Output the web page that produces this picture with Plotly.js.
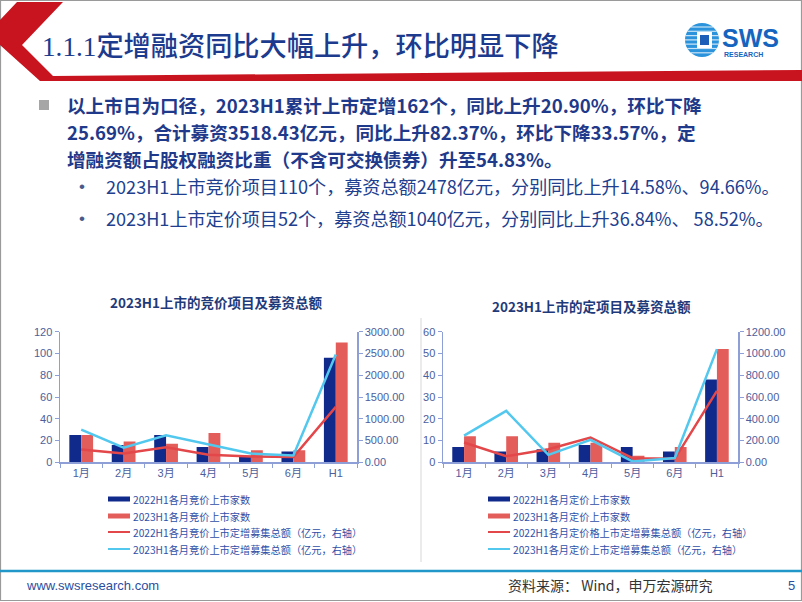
<!DOCTYPE html>
<html>
<head>
<meta charset="utf-8">
<script src="https://cdn.plot.ly/plotly-3.0.1.min.js"></script>
<style>
html,body{margin:0;padding:0;background:#fff;}
#chart{width:802px;height:602px;}
</style>
</head>
<body>
<div id="chart"></div>
<script>
// ---------------- data ----------------
const categories = ['1月','2月','3月','4月','5月','6月','H1'];

const bidCount2022  = [25, 16, 25, 14, 6, 10, 96];
const bidCount2023  = [25, 19, 17, 27, 11, 11, 110];
const bidAmount2022 = [295, 200, 345, 175, 135, 123, 1273];
const bidAmount2023 = [752, 335, 622, 410, 200, 159, 2478];

const fixCount2022  = [7, 5, 6, 8, 7, 5, 38];
const fixCount2023  = [12, 12, 9, 9, 3, 7, 52];
const fixAmount2022 = [182, 56, 120, 228, 38, 32, 656];
const fixAmount2023 = [245, 472, 68, 207, 8, 40, 1040];

const bidNames = ['2022H1各月竞价上市家数','2023H1各月竞价上市家数',
  '2022H1各月竞价上市定增募集总额（亿元，右轴）','2023H1各月竞价上市定增募集总额（亿元，右轴）'];
const fixNames = ['2022H1各月定价上市家数','2023H1各月定价上市家数',
  '2022H1各月定价格上市定增募集总额（亿元，右轴）','2023H1各月定价上市定增募集总额（亿元，右轴）'];

const slideTitle = '1.1.1定增融资同比大幅上升，环比明显下降';
const mainBullet = [
  '以上市日为口径，2023H1累计上市定增162个，同比上升20.90%，环比下降',
  '25.69%，合计募资3518.43亿元，同比上升82.37%，环比下降33.57%，定',
  '增融资额占股权融资比重（不含可交换债券）升至54.83%。'
];
const subBullets = [
  '2023H1上市竞价项目110个，募资总额2478亿元，分别同比上升14.58%、94.66%。',
  '2023H1上市定价项目52个，募资总额1040亿元，分别同比上升36.84%、 58.52%。'
];
const chartTitles = ['2023H1上市的竞价项目及募资总额','2023H1上市的定项目及募资总额'];

// ---------------- styling ----------------
const W = 802, H = 602;
const px = x => x / W;
const py = y => 1 - y / H;

const NAVY = '#102a8c', CORAL = '#e35d5a', RED = '#e3474a', CYAN = '#52c8ef';
const AXIS = '#8e9ed6', TICK = '#4d5e9c';
const CJK = 'Noto Sans CJK SC, sans-serif';
const LAT = 'Liberation Sans, Arial, Noto Sans CJK SC, sans-serif';

function bar(x, y, name, color, xa, ya) {
  return {type:'bar', x:x, y:y, name:name, marker:{color:color}, xaxis:xa, yaxis:ya,
          showlegend:false, hoverinfo:'x+y+name'};
}
function line(x, y, name, color, xa, ya) {
  return {type:'scatter', mode:'lines', x:x, y:y, name:name, line:{color:color, width:2.5},
          xaxis:xa, yaxis:ya, showlegend:false};
}

const traces = [
  bar(categories, bidCount2022, bidNames[0], NAVY, 'x', 'y'),
  bar(categories, bidCount2023, bidNames[1], CORAL, 'x', 'y'),
  line(categories, bidAmount2022, bidNames[2], RED, 'x', 'y2'),
  line(categories, bidAmount2023, bidNames[3], CYAN, 'x', 'y2'),
  bar(categories, fixCount2022, fixNames[0], NAVY, 'x2', 'y3'),
  bar(categories, fixCount2023, fixNames[1], CORAL, 'x2', 'y3'),
  line(categories, fixAmount2022, fixNames[2], RED, 'x2', 'y4'),
  line(categories, fixAmount2023, fixNames[3], CYAN, 'x2', 'y4')
];

const yDom = [py(462.3), py(331.7)];
function xAxis(dom, anchor) {
  return {domain:dom, anchor:anchor, type:'category', showline:true, linecolor:AXIS, linewidth:1.5,
          ticks:'outside', ticklen:4, tickcolor:AXIS, tickson:'boundaries', showgrid:false, zeroline:false,
          tickfont:{family:LAT, size:11, color:TICK}, fixedrange:true};
}
function yAxis(anchor, range, dtick, fmt, side, overlay) {
  const a = {anchor:anchor, range:range, dtick:dtick, showline:true, linecolor:AXIS, linewidth:1.5,
          ticks:'outside', ticklen:4, tickcolor:AXIS, showgrid:false, zeroline:false,
          tickfont:{family:LAT, size:11, color:TICK}, fixedrange:true, side:side};
  if (fmt) a.tickformat = fmt;
  if (overlay) a.overlaying = overlay; else a.domain = yDom;
  return a;
}

const shapes = [];
const annotations = [];

// slide frame
shapes.push({type:'rect', xref:'paper', yref:'paper', x0:px(0.5), x1:px(801.5), y0:py(0.5), y1:py(600.5),
  line:{color:'#9a9a9a', width:1.2}, fillcolor:'rgba(0,0,0,0)', layer:'below'});

// header red chevron + band
const hdr = [[17,2],[63,2],[22,45],[53,76],[802,70],[802,81],[40,81],[0,45],[0,20]];
shapes.push({type:'path', xref:'paper', yref:'paper',
  path:'M' + hdr.map(p => px(p[0]) + ',' + py(p[1])).join(' L') + ' Z',
  fillcolor:'#c8141e', line:{width:0}});

// logo
const cx = 702, cy = 40, r = 17;
shapes.push({type:'circle', xref:'paper', yref:'paper', x0:px(cx-r), x1:px(cx+r), y0:py(cy+r), y1:py(cy-r),
  fillcolor:'#2a93dc', line:{width:0}});
for (let d = -13; d <= 13; d += 4.3) {
  const hc = Math.sqrt(r*r - d*d);
  shapes.push({type:'line', xref:'paper', yref:'paper', x0:px(cx-hc), x1:px(cx+hc), y0:py(cy+d), y1:py(cy+d),
    line:{color:'rgba(255,255,255,0.75)', width:1.2}});
}
shapes.push({type:'rect', xref:'paper', yref:'paper', x0:px(697), x1:px(712), y0:py(48), y1:py(32),
  fillcolor:'#ffffff', line:{width:0}});
shapes.push({type:'rect', xref:'paper', yref:'paper', x0:px(700), x1:px(709), y0:py(45), y1:py(35),
  fillcolor:'#1d5fb8', line:{width:0}});
annotations.push({xref:'paper', yref:'paper', x:px(720), y:py(38), xanchor:'left', yanchor:'middle',
  text:'<b>SWS</b>', showarrow:false, font:{family:LAT, size:25, color:'#1565c0'}});
annotations.push({xref:'paper', yref:'paper', x:px(722), y:py(54), xanchor:'left', yanchor:'middle',
  text:'<b>RESEARCH</b>', showarrow:false, font:{family:LAT, size:7, color:'#1565c0'}});

// title
annotations.push({xref:'paper', yref:'paper', x:px(40), y:py(44), xanchor:'left', yanchor:'middle',
  text:'<span style="font-family:Liberation Serif">1.1.1</span>' + slideTitle.slice(5), showarrow:false,
  font:{family:CJK, size:27.2, color:'#1c3b8e', weight:500}});

// main bullet
shapes.push({type:'rect', xref:'paper', yref:'paper', x0:px(39), x1:px(49), y0:py(110), y1:py(100),
  fillcolor:'#a6a6a6', line:{width:0}});
const mainY = [104.5, 131.5, 158.5];
mainBullet.forEach((t, i) => annotations.push({xref:'paper', yref:'paper', x:px(65), y:py(mainY[i]),
  xanchor:'left', yanchor:'middle', text:'<b>' + t + '</b>', showarrow:false,
  font:{family:CJK, size:18.6, color:'#1f3a8a'}}));
const subY = [186, 218];
subBullets.forEach((t, i) => {
  annotations.push({xref:'paper', yref:'paper', x:px(82), y:py(subY[i]), xanchor:'center', yanchor:'middle',
    text:'•', showarrow:false, font:{family:LAT, size:17, color:'#4a5a8a'}});
  annotations.push({xref:'paper', yref:'paper', x:px(104), y:py(subY[i]), xanchor:'left', yanchor:'middle',
    text:t, showarrow:false, font:{family:CJK, size:18.1, color:'#20408f'}});
});

// chart titles
annotations.push({xref:'paper', yref:'paper', x:px(216), y:py(302), xanchor:'center', yanchor:'middle',
  text:'<b>' + chartTitles[0] + '</b>', showarrow:false, font:{family:CJK, size:13.5, color:'#1f3a7a'}});
annotations.push({xref:'paper', yref:'paper', x:px(591), y:py(306), xanchor:'center', yanchor:'middle',
  text:'<b>' + chartTitles[1] + '</b>', showarrow:false, font:{family:CJK, size:13.5, color:'#1f3a7a'}});

// faint embedded-image border in right chart
shapes.push({type:'line', xref:'paper', yref:'paper', x0:px(421), x1:px(421), y0:py(318), y1:py(562),
  line:{color:'#e4e4e4', width:1.5}});

// legends
const legColors = [NAVY, CORAL, RED, CYAN];
const legY = [499, 516, 532, 549];
function legend(x0, names) {
  names.forEach((n, i) => {
    const isBar = i < 2;
    shapes.push({type:'line', xref:'paper', yref:'paper', x0:px(x0), x1:px(x0+22), y0:py(legY[i]), y1:py(legY[i]),
      line:{color:legColors[i], width:isBar ? 5 : 2}});
    annotations.push({xref:'paper', yref:'paper', x:px(x0+23), y:py(legY[i]), xanchor:'left', yanchor:'middle',
      text:n, showarrow:false, font:{family:CJK, size:10.2, color:'#3050a8'}});
  });
}
legend(108, bidNames);
legend(488, fixNames);

// footer
shapes.push({type:'line', xref:'paper', yref:'paper', x0:0, x1:1, y0:py(571), y1:py(571),
  line:{color:'#2196c8', width:2.5}});
annotations.push({xref:'paper', yref:'paper', x:px(24), y:py(585), xanchor:'left', yanchor:'middle',
  text:'www.swsresearch.com', showarrow:false, font:{family:LAT, size:13, color:'#2b4ea0'}});
annotations.push({xref:'paper', yref:'paper', x:px(506), y:py(585), xanchor:'left', yanchor:'middle',
  text:'资料来源： Wind，申万宏源研究', showarrow:false, font:{family:CJK, size:14, color:'#333333'}});
annotations.push({xref:'paper', yref:'paper', x:px(791), y:py(585), xanchor:'center', yanchor:'middle',
  text:'5', showarrow:false, font:{family:LAT, size:13, color:'#2b4ea0'}});

const layout = {
  width: W, height: H,
  margin: {l:0, r:0, t:0, b:0},
  paper_bgcolor: '#ffffff', plot_bgcolor: 'rgba(0,0,0,0)',
  showlegend: false,
  barmode: 'group', bargap: 0.44, bargroupgap: 0,
  xaxis: xAxis([px(60), px(357)], 'y'),
  yaxis: yAxis('x', [0, 120], 20, null, 'left'),
  yaxis2: yAxis('x', [0, 3000], 500, '.2f', 'right', 'y'),
  xaxis2: xAxis([px(443), px(738)], 'y3'),
  yaxis3: yAxis('x2', [0, 60], 10, null, 'left'),
  yaxis4: yAxis('x2', [0, 1200], 200, '.2f', 'right', 'y3'),
  shapes: shapes,
  annotations: annotations
};

Plotly.newPlot('chart', traces, layout, {displayModeBar:false, staticPlot:true});
</script>
</body>
</html>
